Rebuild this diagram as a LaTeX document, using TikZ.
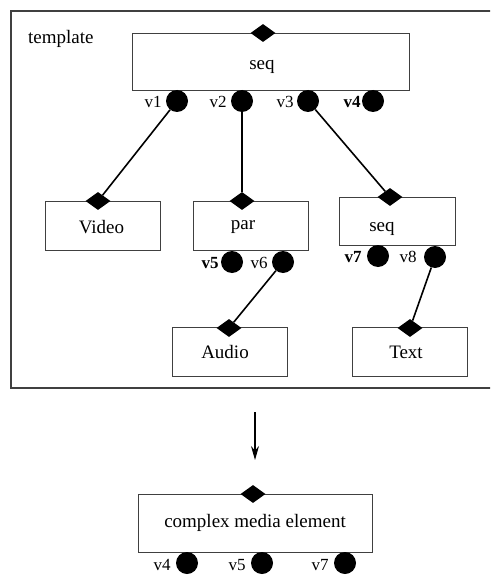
\documentclass[tikz,border=0pt]{standalone}
\usepackage{fontspec}
\setmainfont{Liberation Serif}
\usetikzlibrary{shapes.geometric,arrows.meta}

\begin{document}
\begin{tikzpicture}[x=1pt,y=-1pt,
  box/.style={draw=black!75, line width=0.9pt, fill=white, inner sep=0pt},
  port/.style={diamond, fill=black, inner sep=0pt, minimum width=25pt, minimum height=18pt},
  var/.style={circle, fill=black, inner sep=0pt, minimum size=22pt},
  lbl/.style={font=\fontsize{17}{17}\selectfont, inner sep=0pt, anchor=base},
  lblb/.style={lbl, font=\fontsize{17}{17}\selectfont\bfseries},
  txt/.style={font=\fontsize{19}{19}\selectfont, inner sep=0pt, anchor=base},
  wire/.style={line width=1.6pt}]
\useasboundingbox (0,0) rectangle (490,575);
\clip (0,0) rectangle (490,575);

% enclosing template frame
\draw[draw=black!75, line width=1.2pt] (11,11) rectangle (500,388);
\node[txt, anchor=base west] (tpl) at (28,44) {template};

% element boxes
\node[box, minimum width=277pt, minimum height=57pt] (bseq) at (270.5,61.5) {};
\node[box, minimum width=115pt, minimum height=49pt] (bvideo) at (102.5,225.5) {};
\node[box, minimum width=115pt, minimum height=49pt] (bpar) at (250.5,225.5) {};
\node[box, minimum width=116pt, minimum height=48pt] (bseqb) at (397,221) {};
\node[box, minimum width=115pt, minimum height=49pt] (baudio) at (229.5,351.5) {};
\node[box, minimum width=115pt, minimum height=49pt] (btext) at (409.5,351.5) {};
\node[box, minimum width=234pt, minimum height=58pt] (bcme) at (255,523) {};

% box captions
\node[txt] (tseq) at (262,70) {seq};
\node[txt] (tvideo) at (101.5,233) {Video};
\node[txt] (tpar) at (243,229) {par};
\node[txt] (tseqb) at (382,231) {seq};
\node[txt] (taudio) at (225,358) {Audio};
\node[txt] (ttext) at (406,358) {Text};
\node[txt] (tcme) at (255,527) {complex media element};

% entry ports
\node[port] (pseq) at (263,33) {};
\node[port] (pvideo) at (98,201) {};
\node[port] (ppar) at (242,201) {};
\node[port] (pseqb) at (390,197) {};
\node[port] (paudio) at (229,328) {};
\node[port] (ptext) at (410,328) {};
\node[port] (pcme) at (253,494) {};

% variables of the top sequence
\node[var] (v1) at (177,101) {};
\node[var] (v2) at (242,101) {};
\node[var] (v3) at (308,101) {};
\node[var] (v4) at (373,101) {};
\node[lbl] (l1) at (153,107) {v1};
\node[lbl] (l2) at (218,107) {v2};
\node[lbl] (l3) at (285,107) {v3};
\node[lblb] (l4) at (352,107) {v4};

% variables of par
\node[var] (v5) at (232,262) {};
\node[var] (v6) at (283,262) {};
\node[lblb] (l5) at (210,268) {v5};
\node[lbl] (l6) at (259,268) {v6};

% variables of the inner sequence
\node[var] (v7) at (378,256) {};
\node[var] (v8) at (435,257) {};
\node[lblb] (l7) at (353,262) {v7};
\node[lbl] (l8) at (408,262) {v8};

% variables of the resulting element
\node[var] (w4) at (187,563) {};
\node[var] (w5) at (262,563) {};
\node[var] (w7) at (345,563) {};
\node[lbl] (m4) at (162,570) {v4};
\node[lbl] (m5) at (237,570) {v5};
\node[lbl] (m7) at (320,570) {v7};

% bindings
\draw[wire] (v1) -- (pvideo);
\draw[wire] (v2) -- (ppar);
\draw[wire] (v3) -- (pseqb);
\draw[wire] (v6) -- (paudio);
\draw[wire] (v8) -- (ptext);

% expansion arrow
\coordinate (a0) at (255,412);
\coordinate (a1) at (255,460);
\draw[line width=1.2pt, -{Stealth[length=14pt,width=8pt]}] (a0) -- (a1);
\end{tikzpicture}
\end{document}
